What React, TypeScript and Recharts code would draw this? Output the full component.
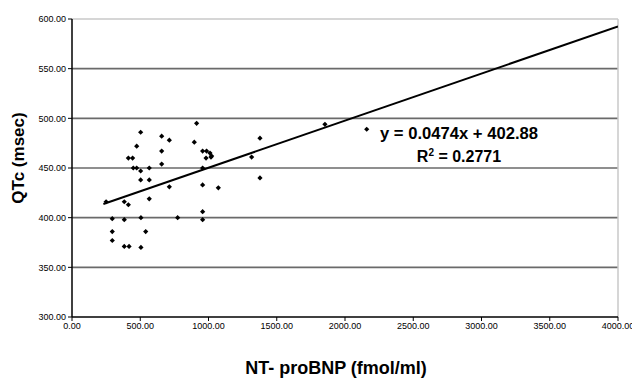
import React from "react";
import {
  ComposedChart,
  Scatter,
  Line,
  XAxis,
  YAxis,
  ReferenceLine,
} from "recharts";

// NT-proBNP (fmol/ml) values
const bnpValues = [
  250, 295, 295, 295, 383, 413, 383, 383, 418, 505, 505, 540, 566, 774, 957,
  957, 957, 957, 1072, 713, 503, 566, 449, 474, 503, 566, 657, 413, 444, 657,
  474, 503, 657, 713, 896, 913, 957, 986, 1011, 1023, 982, 1018, 1377, 1316,
  1377, 1853, 2159,
];
// QTc (msec) values
const qtcValues = [
  416, 399, 386, 377, 416, 413, 398, 371, 371, 370, 400, 386, 419, 400, 406,
  398, 433, 450, 430, 431, 438, 438, 450, 450, 447, 450, 454, 460, 460, 467,
  472, 486, 482, 478, 476, 495, 467, 467, 465, 462, 460, 461, 480, 461, 440,
  494, 489,
];

const slope = 0.0474;
const intercept = 402.88;
const trendXs = [230, 4000];

const xTicks = [0, 500, 1000, 1500, 2000, 2500, 3000, 3500, 4000];
const yTicks = [300, 350, 400, 450, 500, 550, 600];
const gridValues = [350, 400, 450, 500, 550];

const points = bnpValues.map((x, i) => ({ x, y: qtcValues[i] }));
const trendData = trendXs.map((x) => ({ x, y: intercept + slope * x }));

const Diamond = (props: any) => {
  const { cx, cy } = props;
  if (cx == null || cy == null) return null;
  const r = 2.6;
  return (
    <polygon
      points={`${cx},${cy - r} ${cx + r},${cy} ${cx},${cy + r} ${cx - r},${cy}`}
      fill="#000"
    />
  );
};

const font = "'Liberation Sans', Arial, sans-serif";

export default function App() {
  return (
    <div
      style={{
        position: "absolute",
        left: 0,
        top: 0,
        width: 632,
        height: 378,
        background: "#fff",
      }}
    >
      <ComposedChart
        width={632}
        height={378}
        margin={{ top: 19, right: 14, left: 0, bottom: 31 }}
      >
        {gridValues.map((v) => (
          <ReferenceLine
            key={v}
            y={v}
            stroke="#6a6a6a"
            strokeWidth={1.6}
            ifOverflow="visible"
          />
        ))}
        <ReferenceLine y={600} stroke="#c8c8c8" strokeWidth={1.5} />
        <ReferenceLine x={4000} stroke="#c8c8c8" strokeWidth={1.5} />
        <XAxis
          dataKey="x"
          type="number"
          domain={[0, 4000]}
          ticks={xTicks}
          tickFormatter={(v: number) => v.toFixed(2)}
          axisLine={{ stroke: "#000", strokeWidth: 1.5 }}
          tickLine={{ stroke: "#000" }}
          tickSize={4}
          tick={{ fill: "#000", fontSize: 9, fontFamily: font }}
          height={30}
          interval={0}
          allowDataOverflow
        />
        <YAxis
          dataKey="y"
          type="number"
          domain={[300, 600]}
          ticks={yTicks}
          tickFormatter={(v: number) => v.toFixed(2)}
          axisLine={{ stroke: "#000", strokeWidth: 1.5 }}
          tickLine={{ stroke: "#000" }}
          tickSize={4}
          tick={{ fill: "#000", fontSize: 9, fontFamily: font }}
          width={72}
          interval={0}
          allowDataOverflow
        />
        <Scatter
          data={points}
          dataKey="y"
          shape={<Diamond />}
          isAnimationActive={false}
        />
        <Line
          data={trendData}
          dataKey="y"
          type="linear"
          stroke="#000"
          strokeWidth={2}
          dot={false}
          activeDot={false}
          isAnimationActive={false}
        />
      </ComposedChart>
      <svg
        width={632}
        height={378}
        style={{ position: "absolute", left: 0, top: 0, pointerEvents: "none" }}
      >
        <text
          x={459}
          y={139}
          textAnchor="middle"
          fontFamily={font}
          fontWeight="bold"
          fontSize={16}
          fill="#000"
          textLength={158}
          lengthAdjust="spacingAndGlyphs"
        >
          y = 0.0474x + 402.88
        </text>
        <text
          x={459}
          y={162}
          textAnchor="middle"
          fontFamily={font}
          fontWeight="bold"
          fontSize={16}
          fill="#000"
        >
          R
          <tspan fontSize={10} dy={-6}>
            2
          </tspan>
          <tspan dy={6}> = 0.2771</tspan>
        </text>
        <text
          x={336}
          y={374}
          textAnchor="middle"
          fontFamily={font}
          fontWeight="bold"
          fontSize={18}
          fill="#000"
        >
          NT- proBNP (fmol/ml)
        </text>
        <text
          x={0}
          y={0}
          transform="translate(24,158) rotate(-90)"
          textAnchor="middle"
          fontFamily={font}
          fontWeight="bold"
          fontSize={17}
          fill="#000"
        >
          QTc (msec)
        </text>
      </svg>
    </div>
  );
}
